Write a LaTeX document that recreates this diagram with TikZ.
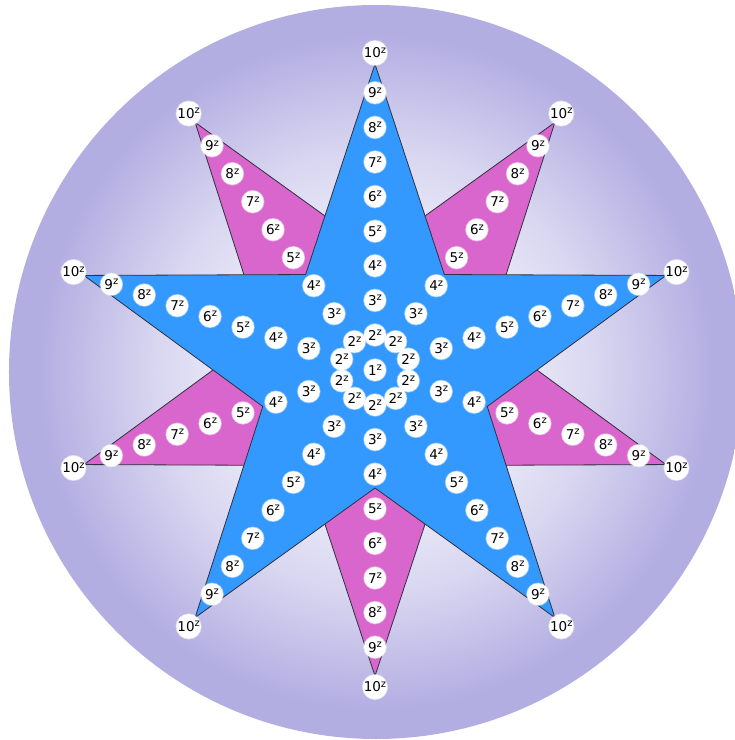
\documentclass[tikz,border=0pt]{standalone}
\usepackage{fontspec}
\setmainfont{DejaVu Sans}
\usepackage{xcolor}
\definecolor{discedge}{HTML}{B3AEE2}
\definecolor{starblue}{HTML}{3399FF}
\definecolor{starpink}{HTML}{D966CC}
\definecolor{starline}{HTML}{2F3040}
\usepackage{tikz}
\usetikzlibrary{calc}
\pgfdeclareradialshading{discshade}{\pgfpoint{0bp}{0bp}}{%
  color(0bp)=(white); color(6bp)=(white!88!discedge);
  color(15bp)=(white!50!discedge); color(23bp)=(discedge); color(50bp)=(discedge)}
\newcommand\starout{306}
\newcommand\starin{118}
\newcommand\nsq[1]{#1\raisebox{4.6pt}{\fontsize{10}{10}\selectfont z}}

\begin{document}
\begin{tikzpicture}[x=1pt,y=1pt,
  edge/.style={draw=starline,line width=0.8pt,line join=miter},
  num/.style={circle,fill=white,draw=white,draw opacity=0.45,line width=1.5pt,
    inner sep=0pt,minimum size=22pt,text=black,font=\fontsize{13.5}{13.5}\selectfont}]
\useasboundingbox (-375,-370) rectangle (360,370);
\shade[shading=discshade] (1,-2) circle (367);
\draw[edge,fill=starpink] (126:\starout)
  \foreach \k in {0,...,4} {-- ({162+72*\k}:\starin) -- ({198+72*\k}:\starout)} -- cycle;
\draw[edge,fill=starblue] (90:\starout)
  \foreach \k in {0,...,4} {-- ({126+72*\k}:\starin) -- ({162+72*\k}:\starout)} -- cycle;
\node[num] (c) at (0,0) {\nsq{1}};
\foreach \a in {0,...,9}{
  \foreach \n in {2,...,9}
    \node[num] (l\a-\n) at ({90+36*\a}:{35+(\n-2)*34.6}) {\nsq{\n}};
  \node[num] (l\a-10) at ({90+36*\a}:317) {\nsq{10}};
}
\end{tikzpicture}
\end{document}
